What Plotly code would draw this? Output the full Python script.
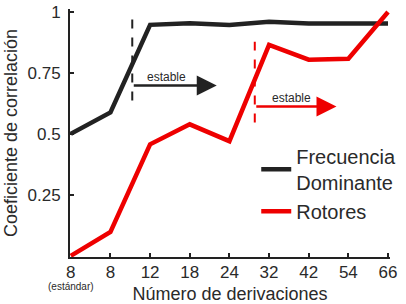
import plotly.graph_objects as go

categories = ["8", "8", "12", "18", "24", "32", "42", "54", "66"]
frecuencia_dominante = [0.50, 0.588, 0.947, 0.954, 0.946, 0.960, 0.953, 0.953, 0.953]
rotores = [0.0, 0.098, 0.457, 0.539, 0.470, 0.865, 0.804, 0.808, 1.0]
y_ticks = [0.25, 0.5, 0.75, 1]
y_ticktext = ["0.25", "0.5", "0.75", "1"]

FONT = "Liberation Sans, Arial, sans-serif"
BLACK = "#222222"
TEXT = "#2a2a2a"
RED = "#ee0000"

x = list(range(len(categories)))

fig = go.Figure()
fig.add_trace(go.Scatter(x=x, y=frecuencia_dominante, mode="lines",
                         line=dict(color=BLACK, width=4.5),
                         name="Frecuencia<br>Dominante"))
fig.add_trace(go.Scatter(x=x, y=rotores, mode="lines",
                         line=dict(color=RED, width=4.5),
                         name="Rotores"))

# stability markers
black_x, red_x = 1.55, 4.64
fig.add_shape(type="line", x0=black_x, x1=black_x, y0=0.637, y1=0.976,
              line=dict(color=BLACK, width=2, dash="dash"))
fig.add_shape(type="line", x0=red_x, x1=red_x, y0=0.547, y1=0.878,
              line=dict(color=RED, width=2, dash="dash"))

fig.add_annotation(x=3.68, y=0.698, ax=black_x, ay=0.698, axref="x", ayref="y",
                   xref="x", yref="y", showarrow=True, arrowhead=2, standoff=0,
                   arrowsize=1.6, arrowwidth=2.5, arrowcolor=BLACK, text="")
fig.add_annotation(x=6.7, y=0.612, ax=red_x, ay=0.612, axref="x", ayref="y",
                   xref="x", yref="y", showarrow=True, arrowhead=2, standoff=0,
                   arrowsize=1.6, arrowwidth=2.5, arrowcolor=RED, text="")
fig.add_annotation(x=2.41, y=0.735, text="estable", showarrow=False,
                   font=dict(family=FONT, size=12, color=TEXT))
fig.add_annotation(x=5.56, y=0.646, text="estable", showarrow=False,
                   font=dict(family=FONT, size=12, color=TEXT))
fig.add_annotation(x=0, y=-0.15, xref="x", yref="paper", text="(estándar)",
                   showarrow=False, font=dict(family=FONT, size=10, color=TEXT))

fig.update_layout(
    width=406, height=304,
    margin=dict(l=70, r=16, t=9, b=47, autoexpand=False),
    paper_bgcolor="white", plot_bgcolor="white",
    font=dict(family=FONT, size=17, color=TEXT),
    showlegend=True,
    legend=dict(x=0.582, y=0.485, xanchor="left", yanchor="top",
                bgcolor="rgba(0,0,0,0)", font=dict(size=20, color=TEXT),
                itemwidth=30, tracegroupgap=19),
    xaxis=dict(range=[-0.02, 8.05], tickmode="array", tickvals=x, ticktext=categories,
               automargin=False,
               showgrid=False, zeroline=False, showline=True, linecolor=BLACK,
               linewidth=2, ticks="inside", ticklen=4, tickwidth=2, tickcolor=BLACK,
               ticklabelstandoff=-1,
               title=dict(text="Número de derivaciones", font=dict(size=18), standoff=9),
               tickfont=dict(size=17)),
    yaxis=dict(range=[-0.005, 1.012], tickmode="array", tickvals=y_ticks, ticktext=y_ticktext,
               automargin=False,
               showgrid=False, zeroline=False, showline=True, linecolor=BLACK,
               linewidth=2, ticks="inside", ticklen=4, tickwidth=2, tickcolor=BLACK,
               ticklabelstandoff=4,
               title=dict(text="Coeficiente de correlación", font=dict(size=18), standoff=5),
               tickfont=dict(size=17)),
)

fig.write_html("out.html", config={"displayModeBar": False},
               post_script="document.body.style.margin='0';")
